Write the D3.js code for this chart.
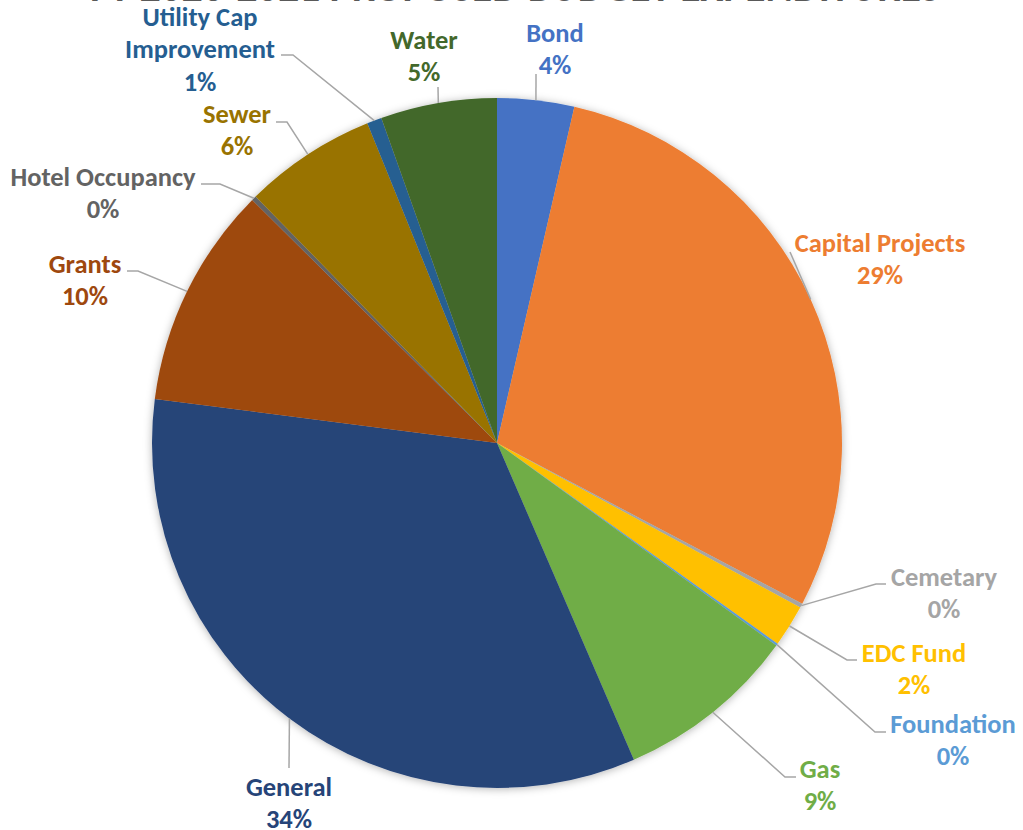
<!DOCTYPE html>
<html>
<head>
<meta charset="utf-8">
<script src="https://cdn.jsdelivr.net/npm/d3@7"></script>
<style>
  body { margin: 0; background: #fff; }
  svg { display: block; font-family: Carlito, Lato, "Open Sans", sans-serif; }
  .lbl { font-weight: bold; font-size: 26.5px; text-anchor: middle; }
  .leader { fill: none; stroke: #a6a6a6; stroke-width: 1.5; }
</style>
</head>
<body>
<svg width="1023" height="830"></svg>
<script>
(function (d3) {
  'use strict';

  // data (share of total, in %)
  const categories = ['Bond', 'Capital Projects', 'Cemetary', 'EDC Fund', 'Foundation', 'Gas',
    'General', 'Grants', 'Hotel Occupancy', 'Sewer', 'Utility Cap Improvement', 'Water'];
  const values = [3.6, 29.1, 0.2, 1.97, 0.1, 8.52, 33.52, 10.4, 0.22, 6.2, 0.69, 5.44];
  const colors = ['#4472c4', '#ed7d31', '#a5a5a5', '#ffc000', '#5b9bd5', '#70ad47',
    '#264478', '#9e480e', '#636363', '#997300', '#255e91', '#43682b'];
  const title = 'FY 2020-2021 PROPOSED BUDGET EXPENDITURES';

  // label layout: text lines, text centre, leader elbow/end points
  const labelLayout = [
    { lines: ['Bond'], x: 555, y: 33, path: [[536, 74]] },
    { lines: ['Capital Projects'], x: 880, y: 243, path: [[790, 252]] },
    { lines: ['Cemetary'], x: 944, y: 577, path: [[876, 584], [886, 584]] },
    { lines: ['EDC Fund'], x: 914, y: 653, path: [[847, 660], [857, 660]] },
    { lines: ['Foundation'], x: 953, y: 724, path: [[875, 732], [886, 732]] },
    { lines: ['Gas'], x: 820, y: 769, path: [[785, 777], [796, 777]] },
    { lines: ['General'], x: 289, y: 787, path: [[289, 768]] },
    { lines: ['Grants'], x: 85, y: 264, path: [[138, 271], [127, 271]] },
    { lines: ['Hotel Occupancy'], x: 103, y: 177, path: [[220, 184], [201, 184]] },
    { lines: ['Sewer'], x: 237, y: 114, path: [[287, 122], [276, 122]] },
    { lines: ['Utility Cap', 'Improvement'], x: 200, y: 17, path: [[293, 55], [281, 55]] },
    { lines: ['Water'], x: 424, y: 40, path: [[438, 87]] }
  ];

  const svg = d3.select('svg');
  const cx = 497, cy = 443, radius = 345;
  const lineH = 32.5;

  const defs = svg.append('defs');
  defs.append('filter')
      .attr('id', 'shadow')
      .attr('x', '-10%').attr('y', '-10%')
      .attr('width', '120%').attr('height', '120%')
    .append('feDropShadow')
      .attr('dx', 0).attr('dy', 1)
      .attr('stdDeviation', 4)
      .attr('flood-color', '#000')
      .attr('flood-opacity', 0.3);

  // title (cut off at the top edge)
  svg.append('text')
      .attr('x', 515)
      .attr('y', 1)
      .attr('text-anchor', 'middle')
      .attr('font-size', 44)
      .attr('font-weight', 'bold')
      .attr('fill', '#595959')
      .attr('textLength', 850)
      .attr('lengthAdjust', 'spacingAndGlyphs')
      .text(title);

  const data = categories.map((c, i) => ({ name: c, value: values[i], color: colors[i] }));
  const total = d3.sum(values);

  const pie = d3.pie().sort(null).value(d => d.value);
  const arcs = pie(data);
  const arc = d3.arc().innerRadius(0).outerRadius(radius);

  const g = svg.append('g').attr('transform', `translate(${cx},${cy})`);

  g.append('g')
      .attr('filter', 'url(#shadow)')
    .selectAll('path')
    .data(arcs)
    .enter().append('path')
      .attr('d', arc)
      .attr('fill', d => d.data.color);

  // leader lines
  const edge = d => {
    const a = (d.startAngle + d.endAngle) / 2;
    return [cx + radius * Math.sin(a), cy - radius * Math.cos(a)];
  };

  svg.append('g').selectAll('path')
    .data(arcs)
    .enter().append('path')
      .attr('class', 'leader')
      .attr('d', (d, i) => d3.line()([edge(d)].concat(labelLayout[i].path)));

  // labels
  const lbl = svg.append('g').selectAll('text')
    .data(arcs)
    .enter().append('text')
      .attr('class', 'lbl')
      .attr('fill', d => d.data.color);

  lbl.each(function (d, i) {
    const L = labelLayout[i];
    const t = d3.select(this);
    const lines = L.lines.concat([Math.round(d.data.value / total * 100) + '%']);
    lines.forEach((s, k) => {
      t.append('tspan')
        .attr('x', L.x)
        .attr('y', L.y + k * lineH + 8.5)
        .text(s);
    });
  });

}(d3));
</script>
</body>
</html>
